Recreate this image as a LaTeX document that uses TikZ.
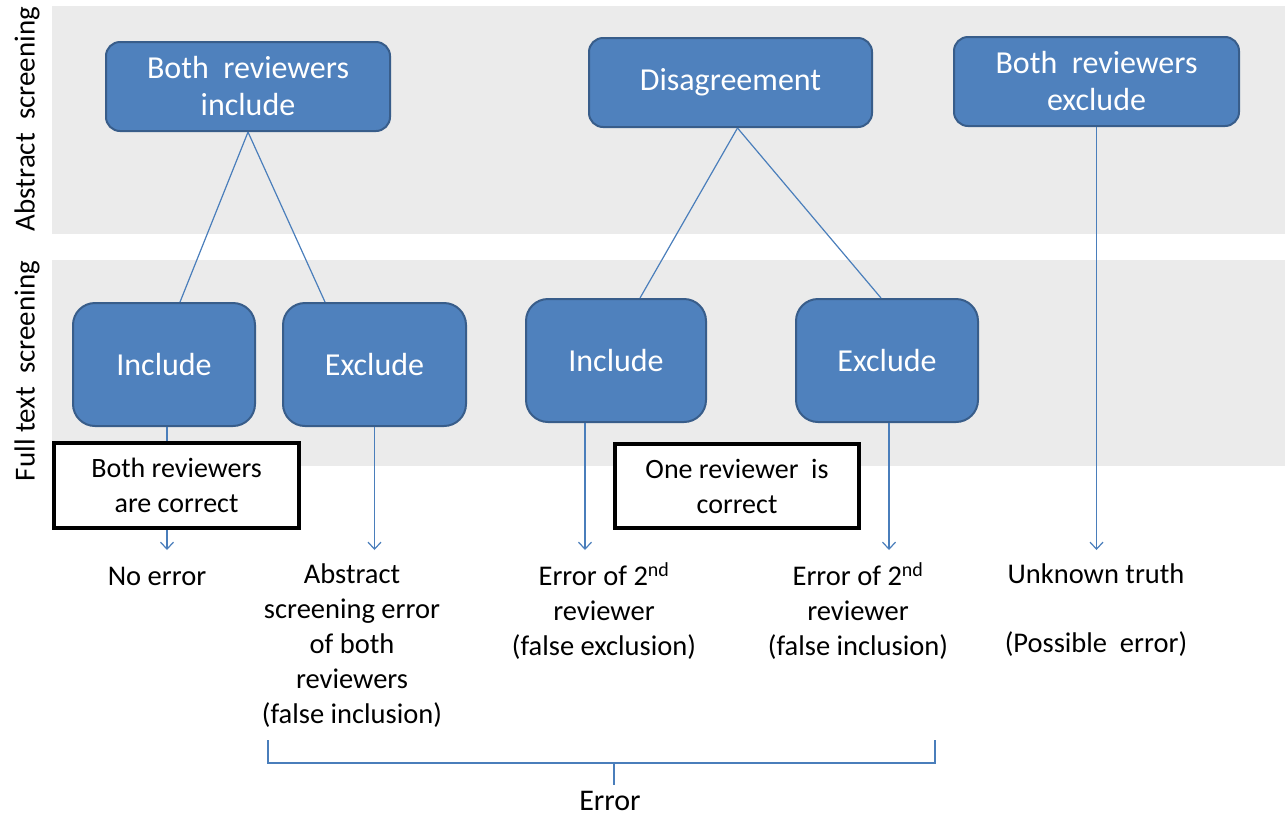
\documentclass[tikz,border=0pt]{standalone}
\usepackage{fontspec}
\setmainfont{Carlito}
\usetikzlibrary{arrows.meta,calc}
\definecolor{bandgray}{HTML}{EBEBEB}
\definecolor{boxfill}{HTML}{4F81BD}
\definecolor{boxline}{HTML}{385D8A}
\definecolor{linkblue}{HTML}{4A7EBB}
\tikzset{
  bluebox/.style={draw=boxline, line width=2pt, fill=boxfill, rounded corners=#1,
    text=white, align=center, inner sep=0pt, font=\fontsize{32}{37}\selectfont},
  notebox/.style={draw=black, line width=3.2pt, fill=white, align=center, inner sep=0pt,
    font=\fontsize{28}{35}\selectfont},
  outcome/.style={align=center, inner sep=0pt, font=\fontsize{28.5}{35}\selectfont},
  grouplabel/.style={inner sep=0pt, font=\fontsize{30}{34}\selectfont},
  stage/.style={rotate=90, inner sep=0pt, font=\fontsize{29}{34}\selectfont},
  link/.style={draw=linkblue, line width=1.2pt},
  arr/.style={link, -{Straight Barb[length=7pt,width=13pt]}},
  band/.style={fill=bandgray, draw=none}
}
\begin{document}
\begin{tikzpicture}[x=1pt, y=-1pt]
\useasboundingbox (0,0) rectangle (1285,820);

% screening stage bands
\path[band] (52,6) rectangle (1285,234);
\path[band] (52,260) rectangle (1285,466);
\node[stage] (stageA) at (27,119) {Abstract\ \ screening};
\node[stage] (stageF) at (27,371) {Full text\ \ screening};

% decision boxes
\node[bluebox=14pt, minimum width=284pt, minimum height=89pt] (bi) at (248,86.5) {Both\ \ reviewers\\include};
\node[bluebox=14pt, minimum width=283pt, minimum height=89pt] (dis) at (730.5,82.5) {Disagreement};
\node[bluebox=14pt, minimum width=285pt, minimum height=89pt] (be) at (1096.5,81.5) {Both\ \ reviewers\\exclude};
\node[bluebox=22pt, minimum width=182pt, minimum height=123pt] (inc1) at (164,364.5) {Include};
\node[bluebox=22pt, minimum width=183pt, minimum height=123pt] (exc1) at (374.5,364.5) {Exclude};
\node[bluebox=22pt, minimum width=180pt, minimum height=123pt] (inc2) at (616,360.5) {Include};
\node[bluebox=22pt, minimum width=182pt, minimum height=123pt] (exc2) at (887,360.5) {Exclude};

% tree branches
\draw[link] (bi.south) -- ([xshift=16pt]inc1.north);
\draw[link] (bi.south) -- ([xshift=-49.5pt]exc1.north);
\draw[link] ([xshift=7pt]dis.south) -- ([xshift=24pt]inc2.north);
\draw[link] ([xshift=7pt]dis.south) -- ([xshift=-6pt]exc2.north);

% arrows down to the outcomes
\coordinate (tipline) at (0,550);
\draw[arr] ([xshift=3pt]inc1.south) -- ([xshift=3pt]inc1.south |- tipline);
\draw[arr] (exc1.south) -- (exc1.south |- tipline);
\draw[arr] ([xshift=-31pt]inc2.south) -- ([xshift=-31pt]inc2.south |- tipline);
\draw[arr] ([xshift=2pt]exc2.south) -- ([xshift=2pt]exc2.south |- tipline);
\draw[arr] (be.south) -- (be.south |- tipline);

% notes on correctness
\node[notebox, minimum width=245pt, minimum height=85pt] (ok2) at (176.5,485.5) {Both reviewers\\are correct};
\node[notebox, minimum width=244pt, minimum height=84pt] (ok1) at (737,486) {One reviewer\ \ is\\correct};

% outcomes
\node[outcome] (o1) at (157,576) {No error};
\node[outcome] (o2) at (352,645.5) {Abstract\\screening error\\of both\\reviewers\\(false inclusion)};
\node[outcome] (o3) at (604,611) {Error of 2\textsuperscript{nd}\\reviewer\\(false exclusion)};
\node[outcome] (o4) at (858,611) {Error of 2\textsuperscript{nd}\\reviewer\\(false inclusion)};
\node[outcome] (o5) at (1096,610.5) {Unknown truth\\[34pt](Possible\ \ error)};

% bracket grouping the errors
\coordinate (brL) at (268,740);
\coordinate (brR) at (935,740);
\coordinate (brM) at (614,763);
\node[grouplabel, anchor=base] (err) at (610,810) {Error};
\draw[link] (brL) -- (brL |- brM) -- (brR |- brM) -- (brR);
\draw[link] (brM) -- ([yshift=-22pt]brM);
\end{tikzpicture}
\end{document}
